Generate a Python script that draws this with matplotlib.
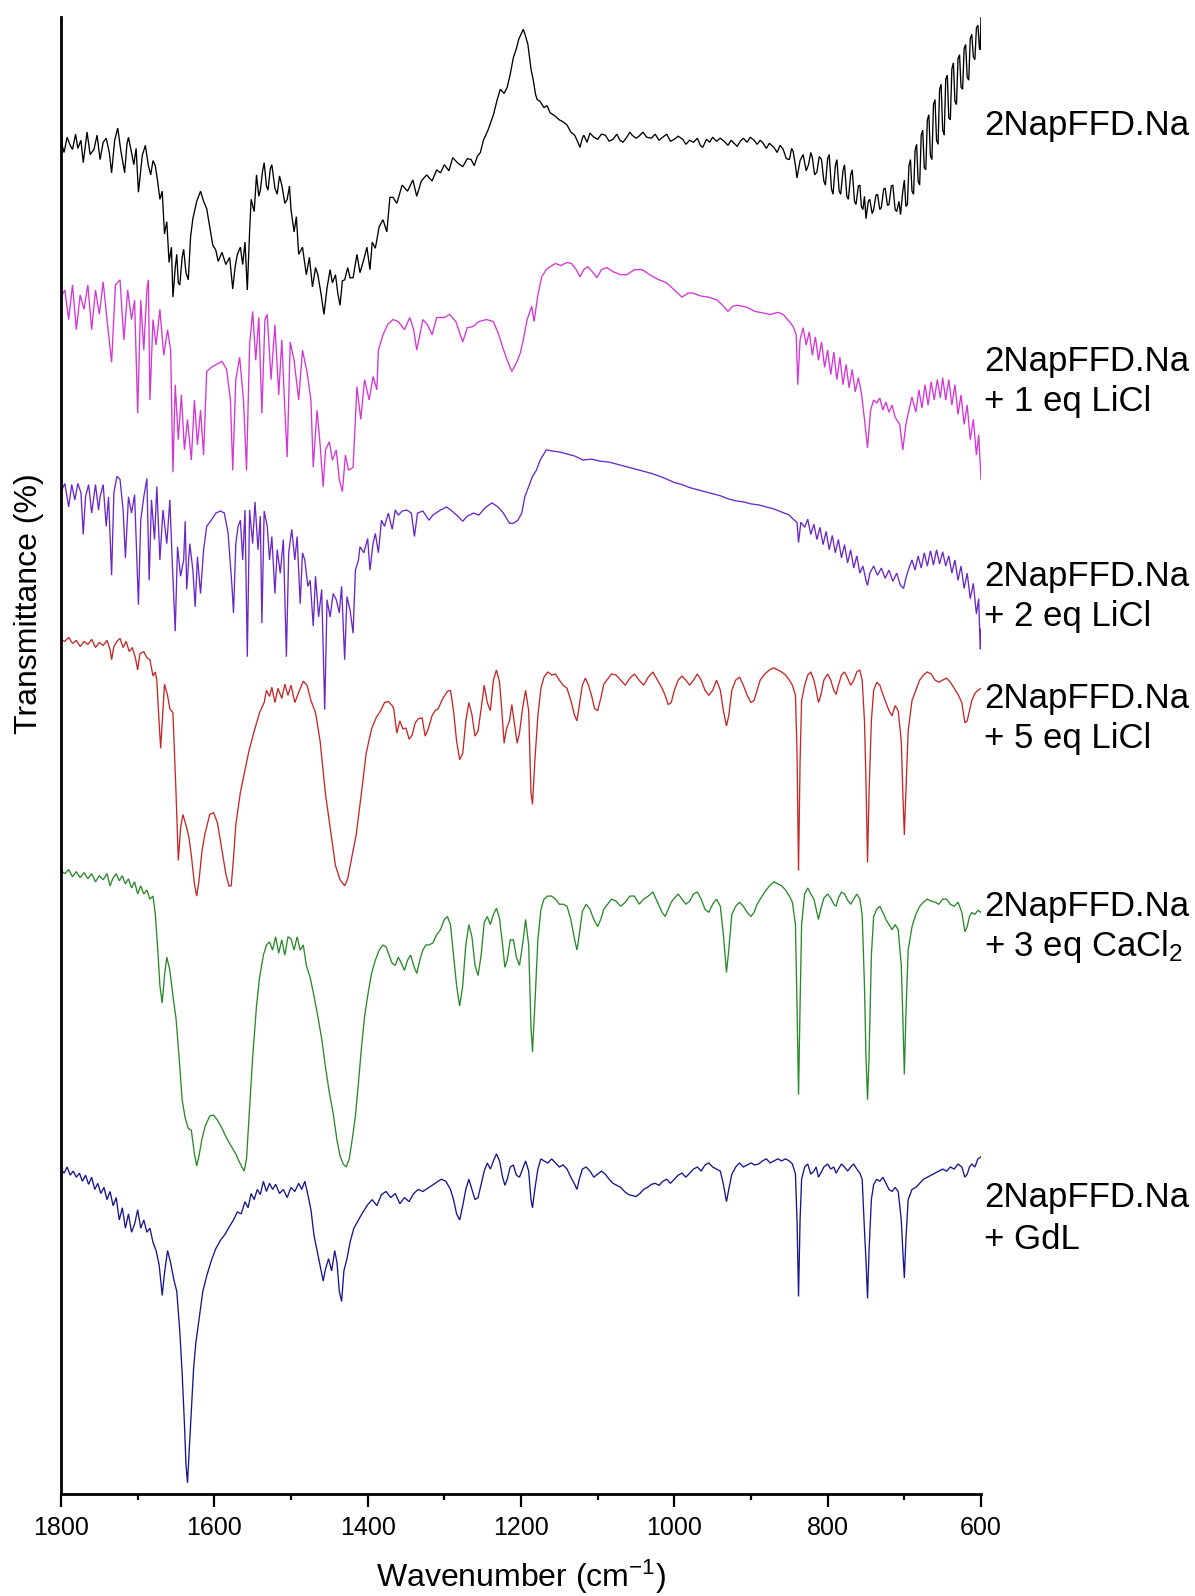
import matplotlib
matplotlib.use("Agg")
import matplotlib.pyplot as plt
from matplotlib.ticker import MultipleLocator

plt.rcParams['font.family'] = ['Liberation Sans', 'DejaVu Sans']
plt.rcParams['mathtext.fontset'] = 'custom'
plt.rcParams['mathtext.rm'] = 'Liberation Sans'
plt.rcParams['mathtext.it'] = 'Liberation Sans:italic'
plt.rcParams['mathtext.default'] = 'regular'

# ---------------------------------------------------------------------------
# FTIR spectra, vertically stacked transmittance (arbitrary offset units)
# ---------------------------------------------------------------------------
na_wn = [1800, 1796, 1792, 1788, 1785, 1781, 1778, 1774, 1771, 1768, 1766, 1762, 1757, 1753, 1749, 1745,
         1741, 1737, 1734, 1730, 1726, 1722, 1717, 1714, 1712, 1708, 1705, 1702, 1699, 1694, 1690, 1686,
         1683, 1680, 1677, 1674, 1671, 1668, 1665, 1662, 1659, 1656, 1654, 1651, 1649, 1647, 1645, 1642,
         1640, 1637, 1634, 1631, 1628, 1623, 1618, 1614, 1610, 1606, 1602, 1598, 1595, 1590, 1585, 1580,
         1576, 1573, 1570, 1566, 1563, 1560, 1557, 1554, 1552, 1548, 1545, 1542, 1540, 1537, 1535, 1532,
         1530, 1527, 1525, 1521, 1518, 1515, 1512, 1508, 1505, 1502, 1500, 1496, 1493, 1490, 1485, 1480,
         1476, 1472, 1468, 1465, 1461, 1457, 1453, 1449, 1446, 1442, 1439, 1436, 1433, 1430, 1426, 1423,
         1419, 1414, 1410, 1405, 1401, 1397, 1394, 1390, 1385, 1380, 1375, 1371, 1367, 1362, 1355, 1348,
         1341, 1336, 1330, 1323, 1316, 1310, 1305, 1300, 1294, 1289, 1283, 1276, 1270, 1265, 1261, 1257,
         1253, 1249, 1243, 1236, 1231, 1227, 1222, 1218, 1214, 1210, 1206, 1203, 1200, 1197, 1194, 1191,
         1187, 1184, 1181, 1179, 1175, 1170, 1166, 1162, 1156, 1150, 1145, 1140, 1135, 1130, 1127, 1123,
         1120, 1118, 1114, 1110, 1105, 1100, 1095, 1090, 1085, 1080, 1075, 1071, 1067, 1062, 1058, 1055,
         1050, 1046, 1041, 1036, 1030, 1025, 1020, 1015, 1010, 1005, 1000, 995, 989, 985, 980, 975,
         970, 966, 963, 958, 954, 950, 945, 940, 935, 930, 926, 922, 918, 914, 910, 905,
         901, 896, 892, 888, 885, 880, 876, 870, 866, 862, 858, 854, 850, 847, 845, 842,
         840, 836, 832, 828, 825, 822, 820, 817, 814, 811, 808, 805, 803, 800, 798, 795,
         793, 790, 788, 785, 783, 780, 778, 775, 773, 770, 768, 765, 763, 760, 758, 756,
         754, 752, 750, 747, 745, 742, 740, 737, 735, 732, 730, 727, 725, 722, 720, 717,
         715, 712, 710, 707, 705, 702, 700, 698, 696, 694, 692, 690, 688, 686, 684, 682,
         680, 678, 676, 674, 672, 670, 668, 666, 664, 662, 660, 658, 656, 654, 652, 650,
         648, 646, 644, 642, 640, 638, 636, 634, 632, 630, 628, 626, 624, 622, 620, 618,
         616, 614, 612, 610, 608, 606, 604, 602, 601, 600]
na_t = [1329, 1318, 1333, 1325, 1321, 1336, 1322, 1330, 1308, 1326, 1338, 1316, 1321, 1335, 1311, 1328,
        1332, 1318, 1298, 1330, 1342, 1320, 1298, 1326, 1333, 1318, 1306, 1322, 1279, 1315, 1325, 1305,
        1296, 1310, 1305, 1290, 1272, 1280, 1238, 1250, 1210, 1225, 1176, 1205, 1218, 1190, 1188, 1215,
        1223, 1200, 1193, 1235, 1253, 1270, 1280, 1270, 1263, 1245, 1227, 1222, 1211, 1220, 1208, 1215,
        1184, 1205, 1218, 1225, 1208, 1230, 1183, 1240, 1272, 1260, 1296, 1275, 1281, 1300, 1308, 1285,
        1281, 1302, 1306, 1283, 1277, 1295, 1286, 1268, 1272, 1285, 1262, 1240, 1255, 1218, 1225, 1198,
        1215, 1186, 1205, 1198, 1180, 1159, 1185, 1203, 1190, 1198, 1180, 1168, 1192, 1193, 1205, 1195,
        1195, 1218, 1200, 1213, 1225, 1203, 1230, 1224, 1245, 1252, 1240, 1274, 1274, 1268, 1286, 1280,
        1291, 1275, 1290, 1296, 1290, 1301, 1298, 1306, 1300, 1313, 1308, 1304, 1312, 1311, 1305, 1314,
        1318, 1330, 1340, 1355, 1370, 1380, 1376, 1382, 1395, 1411, 1420, 1429, 1434, 1439, 1432, 1424,
        1400, 1389, 1375, 1370, 1368, 1362, 1364, 1357, 1354, 1350, 1348, 1345, 1338, 1335, 1330, 1323,
        1332, 1335, 1328, 1337, 1333, 1331, 1336, 1335, 1329, 1331, 1336, 1330, 1328, 1333, 1338, 1335,
        1332, 1334, 1338, 1333, 1332, 1336, 1330, 1333, 1336, 1329, 1331, 1334, 1331, 1326, 1330, 1328,
        1332, 1325, 1323, 1331, 1328, 1333, 1329, 1332, 1329, 1325, 1330, 1327, 1324, 1329, 1332, 1328,
        1333, 1330, 1326, 1330, 1328, 1322, 1327, 1323, 1318, 1325, 1321, 1312, 1311, 1322, 1319, 1305,
        1293, 1310, 1316, 1300, 1306, 1318, 1313, 1296, 1299, 1314, 1311, 1290, 1286, 1312, 1316, 1282,
        1277, 1305, 1311, 1280, 1277, 1300, 1306, 1275, 1272, 1296, 1301, 1270, 1267, 1285, 1286, 1265,
        1262, 1275, 1253, 1270, 1272, 1258, 1262, 1276, 1277, 1262, 1264, 1282, 1283, 1266, 1267, 1285,
        1286, 1262, 1260, 1270, 1257, 1280, 1291, 1265, 1267, 1305, 1311, 1280, 1277, 1320, 1326, 1290,
        1286, 1335, 1340, 1303, 1301, 1350, 1355, 1315, 1311, 1365, 1370, 1330, 1326, 1380, 1385, 1340,
        1335, 1390, 1394, 1352, 1350, 1400, 1406, 1368, 1365, 1410, 1414, 1382, 1380, 1420, 1424, 1392,
        1389, 1430, 1434, 1412, 1409, 1440, 1443, 1420, 1419, 1451]

li1_wn = [1800, 1795, 1790, 1785, 1780, 1775, 1770, 1765, 1760, 1755, 1750, 1745, 1740, 1734, 1729, 1723,
          1718, 1713, 1708, 1704, 1700, 1696, 1692, 1688, 1686, 1684, 1680, 1676, 1671, 1666, 1661, 1657,
          1654, 1651, 1647, 1643, 1639, 1635, 1630, 1626, 1622, 1618, 1614, 1610, 1604, 1597, 1590, 1584,
          1579, 1576, 1572, 1567, 1562, 1558, 1554, 1550, 1546, 1542, 1538, 1534, 1531, 1526, 1521, 1516,
          1512, 1508, 1505, 1501, 1496, 1490, 1485, 1479, 1474, 1471, 1466, 1462, 1458, 1455, 1450, 1446,
          1441, 1437, 1433, 1429, 1425, 1419, 1414, 1409, 1404, 1398, 1393, 1388, 1386, 1380, 1374, 1367,
          1360, 1352, 1345, 1340, 1336, 1328, 1322, 1316, 1310, 1300, 1293, 1285, 1276, 1270, 1263, 1255,
          1245, 1236, 1229, 1224, 1218, 1212, 1205, 1201, 1197, 1192, 1186, 1183, 1178, 1173, 1167, 1162,
          1155, 1148, 1140, 1134, 1128, 1123, 1118, 1113, 1107, 1101, 1095, 1088, 1080, 1070, 1062, 1052,
          1042, 1030, 1020, 1010, 1000, 990, 982, 976, 965, 955, 944, 937, 930, 924, 918, 905,
          895, 888, 875, 865, 858, 850, 845, 841, 839, 836, 832, 828, 824, 820, 816, 812,
          808, 804, 800, 796, 792, 788, 784, 780, 776, 772, 768, 764, 760, 756, 752, 748,
          744, 740, 736, 732, 728, 724, 720, 716, 712, 706, 702, 698, 694, 690, 685, 681,
          677, 673, 669, 665, 661, 657, 653, 650, 646, 642, 638, 634, 630, 626, 622, 618,
          614, 610, 606, 603, 600]
li1_t = [1176, 1183, 1154, 1188, 1144, 1178, 1164, 1188, 1144, 1183, 1159, 1191, 1154, 1112, 1188, 1193,
         1134, 1183, 1154, 1173, 1062, 1173, 1124, 1183, 1193, 1075, 1154, 1129, 1164, 1119, 1144, 1124,
         1004, 1090, 1036, 1080, 1026, 1056, 1016, 1075, 1031, 1065, 1021, 1103, 1107, 1110, 1113, 1105,
         1075, 1006, 1095, 1117, 1075, 1006, 1129, 1162, 1114, 1156, 1062, 1154, 1159, 1095, 1149, 1080,
         1134, 1065, 1019, 1132, 1114, 1075, 1124, 1102, 1075, 1009, 1065, 1031, 990, 1026, 1034, 1016,
         1026, 997, 985, 1021, 1006, 1009, 1088, 1056, 1095, 1075, 1098, 1085, 1124, 1139, 1149, 1154,
         1152, 1144, 1156, 1144, 1124, 1154, 1149, 1139, 1156, 1156, 1159, 1152, 1132, 1146, 1147, 1152,
         1154, 1152, 1139, 1127, 1114, 1103, 1113, 1121, 1134, 1154, 1167, 1152, 1178, 1196, 1203, 1206,
         1209, 1207, 1210, 1209, 1203, 1196, 1203, 1206, 1201, 1195, 1203, 1205, 1201, 1198, 1198, 1203,
         1203, 1197, 1193, 1190, 1183, 1176, 1180, 1180, 1177, 1176, 1173, 1168, 1162, 1167, 1168, 1166,
         1162, 1161, 1159, 1161, 1159, 1152, 1147, 1139, 1090, 1134, 1146, 1129, 1142, 1119, 1137, 1114,
         1132, 1107, 1124, 1100, 1122, 1095, 1117, 1090, 1110, 1087, 1105, 1083, 1097, 1082, 1056, 1028,
         1065, 1075, 1072, 1077, 1065, 1073, 1063, 1070, 1058, 1051, 1026, 1051, 1065, 1078, 1063, 1085,
         1067, 1090, 1070, 1093, 1075, 1095, 1077, 1097, 1075, 1095, 1070, 1090, 1061, 1080, 1051, 1070,
         1036, 1056, 1021, 1041, 997]

li2_wn = [1800, 1795, 1790, 1786, 1782, 1778, 1774, 1771, 1768, 1764, 1760, 1755, 1751, 1749, 1745, 1741,
          1738, 1734, 1731, 1727, 1723, 1719, 1716, 1712, 1708, 1704, 1699, 1696, 1692, 1688, 1685, 1682,
          1678, 1675, 1671, 1667, 1662, 1658, 1655, 1651, 1648, 1644, 1640, 1638, 1636, 1632, 1628, 1625,
          1622, 1618, 1614, 1610, 1604, 1598, 1592, 1587, 1582, 1577, 1575, 1572, 1569, 1566, 1563, 1560,
          1557, 1554, 1550, 1547, 1543, 1540, 1538, 1535, 1531, 1528, 1525, 1521, 1518, 1514, 1510, 1506,
          1503, 1499, 1495, 1492, 1488, 1485, 1482, 1478, 1475, 1471, 1468, 1464, 1460, 1456, 1453, 1449,
          1445, 1441, 1437, 1434, 1430, 1427, 1423, 1419, 1416, 1412, 1410, 1405, 1400, 1397, 1393, 1390,
          1386, 1382, 1378, 1373, 1368, 1364, 1360, 1355, 1349, 1343, 1339, 1335, 1328, 1320, 1315, 1305,
          1297, 1290, 1284, 1276, 1270, 1262, 1255, 1247, 1238, 1230, 1223, 1215, 1210, 1204, 1199, 1195,
          1190, 1185, 1180, 1175, 1167, 1160, 1150, 1140, 1130, 1119, 1108, 1097, 1085, 1075, 1060, 1045,
          1030, 1015, 1000, 990, 980, 970, 960, 950, 940, 930, 920, 910, 900, 890, 880, 870,
          860, 850, 845, 840, 838, 835, 830, 826, 822, 818, 814, 810, 806, 802, 798, 794,
          790, 786, 782, 778, 774, 770, 766, 762, 758, 754, 750, 748, 745, 740, 735, 730,
          725, 720, 715, 710, 705, 701, 698, 694, 690, 686, 682, 678, 674, 670, 666, 662,
          658, 654, 650, 646, 642, 638, 634, 630, 626, 622, 618, 614, 610, 606, 603, 601,
          600]
li2_t = [985, 993, 970, 992, 977, 993, 984, 943, 980, 992, 964, 992, 967, 980, 992, 951,
         980, 903, 984, 1000, 997, 967, 920, 980, 964, 982, 874, 957, 980, 998, 898, 977,
         938, 990, 918, 967, 934, 977, 918, 848, 931, 902, 918, 956, 889, 934, 908, 872,
         921, 885, 928, 951, 957, 964, 966, 964, 944, 892, 866, 934, 951, 957, 918, 967,
         823, 967, 934, 975, 928, 961, 856, 966, 951, 918, 941, 885, 928, 905, 938, 823,
         925, 948, 918, 941, 875, 925, 918, 892, 898, 853, 902, 862, 889, 771, 879, 862,
         885, 879, 866, 892, 820, 882, 869, 846, 908, 918, 931, 925, 939, 908, 934, 944,
         925, 957, 951, 964, 948, 967, 962, 966, 967, 964, 941, 964, 966, 957, 962, 967,
         970, 966, 962, 956, 961, 964, 962, 969, 974, 970, 964, 954, 954, 957, 964, 980,
         990, 1000, 1006, 1016, 1026, 1025, 1024, 1022, 1020, 1016, 1017, 1015, 1014, 1012, 1009, 1006,
         1003, 999, 994, 992, 989, 987, 985, 983, 981, 978, 976, 975, 973, 972, 970, 968,
         965, 962, 958, 955, 935, 955, 950, 958, 943, 953, 938, 950, 933, 946, 928, 942,
         925, 938, 920, 933, 915, 928, 910, 922, 905, 912, 898, 893, 905, 912, 903, 910,
         900, 908, 897, 905, 893, 890, 900, 910, 918, 908, 922, 910, 925, 912, 927, 913,
         928, 914, 926, 912, 922, 905, 918, 898, 912, 890, 905, 880, 895, 865, 880, 830,
         850]

li5_wn = [1800, 1795, 1790, 1785, 1780, 1775, 1770, 1765, 1760, 1755, 1750, 1745, 1740, 1736, 1734, 1731,
          1727, 1723, 1719, 1715, 1711, 1707, 1703, 1700, 1697, 1692, 1688, 1684, 1680, 1677, 1675, 1673,
          1670, 1667, 1665, 1661, 1658, 1654, 1650, 1647, 1644, 1641, 1636, 1633, 1630, 1626, 1623, 1620,
          1616, 1612, 1606, 1601, 1596, 1590, 1585, 1581, 1578, 1575, 1572, 1566, 1561, 1555, 1548, 1541,
          1535, 1532, 1528, 1525, 1521, 1517, 1512, 1508, 1504, 1500, 1495, 1490, 1484, 1479, 1474, 1468,
          1462, 1455, 1448, 1442, 1436, 1430, 1426, 1421, 1415, 1408, 1402, 1395, 1389, 1383, 1378, 1373,
          1368, 1366, 1362, 1358, 1354, 1350, 1346, 1342, 1338, 1334, 1329, 1325, 1321, 1316, 1312, 1308,
          1302, 1296, 1292, 1288, 1284, 1280, 1276, 1272, 1268, 1264, 1260, 1256, 1252, 1248, 1244, 1240,
          1236, 1232, 1228, 1225, 1222, 1219, 1215, 1212, 1209, 1205, 1202, 1198, 1194, 1190, 1187, 1185,
          1182, 1178, 1174, 1170, 1165, 1160, 1155, 1150, 1145, 1140, 1135, 1130, 1127, 1124, 1120, 1116,
          1112, 1108, 1104, 1100, 1096, 1092, 1088, 1082, 1076, 1070, 1064, 1058, 1052, 1046, 1040, 1034,
          1028, 1022, 1016, 1012, 1008, 1004, 1000, 995, 990, 985, 980, 975, 970, 965, 960, 955,
          950, 945, 940, 936, 932, 929, 925, 920, 915, 910, 905, 900, 896, 892, 888, 882,
          876, 870, 865, 860, 855, 850, 846, 842, 840, 838, 836, 834, 830, 826, 822, 818,
          815, 812, 809, 805, 800, 796, 792, 789, 786, 782, 778, 774, 770, 766, 762, 758,
          755, 752, 750, 748, 746, 743, 740, 736, 732, 728, 724, 720, 716, 712, 708, 704,
          702, 700, 698, 695, 690, 685, 680, 675, 670, 665, 660, 655, 650, 645, 640, 635,
          630, 625, 621, 618, 615, 612, 608, 604, 600]
li5_t = [840, 838, 842, 836, 839, 833, 838, 835, 840, 832, 837, 834, 839, 830, 820, 833,
         838, 841, 832, 838, 828, 832, 822, 810, 826, 828, 822, 820, 804, 808, 800, 771,
         733, 770, 796, 785, 772, 768, 690, 623, 655, 668, 655, 645, 628, 600, 588, 603,
         633, 650, 668, 670, 660, 633, 610, 598, 598, 625, 658, 690, 708, 730, 750, 768,
         778, 790, 784, 793, 778, 792, 782, 796, 785, 795, 778, 788, 799, 795, 780, 768,
         740, 688, 650, 618, 604, 598, 605, 625, 648, 690, 728, 752, 763, 770, 778, 779,
         775, 772, 748, 760, 752, 753, 742, 746, 758, 762, 763, 745, 752, 765, 770, 772,
         782, 789, 790, 770, 740, 722, 728, 760, 778, 766, 745, 750, 772, 795, 778, 770,
         800, 810, 798, 770, 738, 752, 760, 776, 760, 738, 748, 772, 790, 770, 690, 678,
         720, 765, 792, 803, 808, 805, 806, 800, 795, 792, 780, 765, 760, 775, 795, 802,
         795, 785, 772, 770, 782, 796, 800, 806, 805, 800, 795, 802, 806, 800, 795, 803,
         808, 800, 792, 785, 776, 778, 790, 800, 804, 800, 795, 800, 806, 800, 790, 785,
         790, 800, 790, 770, 755, 765, 790, 800, 803, 795, 785, 778, 780, 790, 800, 806,
         810, 812, 810, 808, 805, 800, 795, 785, 730, 613, 720, 780, 795, 805, 808, 800,
         790, 778, 785, 800, 806, 800, 790, 786, 795, 805, 808, 802, 795, 800, 808, 810,
         800, 760, 700, 621, 690, 760, 790, 798, 795, 786, 778, 770, 765, 775, 770, 740,
         690, 648, 690, 750, 780, 790, 800, 805, 808, 806, 800, 798, 800, 802, 798, 792,
         786, 778, 758, 760, 770, 780, 787, 790, 792]

ca3_wn = [1800, 1795, 1790, 1785, 1780, 1775, 1770, 1765, 1760, 1755, 1750, 1745, 1740, 1736, 1732, 1728,
          1724, 1720, 1716, 1712, 1708, 1704, 1700, 1696, 1692, 1688, 1684, 1680, 1677, 1674, 1671, 1668,
          1665, 1662, 1658, 1654, 1650, 1646, 1642, 1638, 1634, 1630, 1626, 1623, 1620, 1616, 1612, 1606,
          1601, 1596, 1590, 1585, 1580, 1576, 1572, 1568, 1564, 1561, 1558, 1555, 1550, 1545, 1541, 1536,
          1532, 1528, 1524, 1520, 1516, 1512, 1508, 1504, 1500, 1496, 1492, 1488, 1484, 1480, 1475, 1470,
          1465, 1460, 1455, 1450, 1445, 1440, 1436, 1432, 1428, 1424, 1420, 1416, 1412, 1408, 1404, 1400,
          1395, 1390, 1385, 1380, 1376, 1372, 1368, 1364, 1360, 1356, 1352, 1348, 1344, 1340, 1336, 1332,
          1328, 1324, 1320, 1315, 1310, 1305, 1300, 1296, 1292, 1288, 1284, 1280, 1276, 1272, 1268, 1264,
          1260, 1256, 1252, 1248, 1244, 1240, 1236, 1232, 1228, 1224, 1221, 1218, 1214, 1210, 1206, 1202,
          1198, 1194, 1190, 1187, 1185, 1182, 1178, 1174, 1170, 1165, 1160, 1155, 1150, 1145, 1140, 1135,
          1130, 1127, 1124, 1120, 1115, 1110, 1105, 1100, 1096, 1092, 1087, 1082, 1076, 1070, 1064, 1058,
          1052, 1046, 1040, 1034, 1028, 1022, 1016, 1012, 1008, 1004, 1000, 995, 990, 985, 980, 975,
          970, 965, 960, 955, 950, 945, 940, 936, 932, 929, 925, 920, 915, 910, 905, 900,
          896, 892, 888, 882, 876, 870, 865, 860, 855, 850, 846, 842, 840, 838, 836, 834,
          830, 826, 822, 818, 815, 812, 809, 805, 800, 796, 792, 789, 786, 782, 778, 774,
          770, 766, 762, 758, 755, 752, 750, 748, 746, 743, 740, 736, 732, 728, 724, 720,
          716, 712, 708, 704, 702, 700, 698, 695, 690, 685, 680, 675, 670, 665, 660, 655,
          650, 645, 640, 635, 630, 625, 621, 618, 615, 612, 608, 604, 600]
ca3_t = [613, 610, 614, 607, 612, 606, 611, 605, 610, 602, 608, 604, 610, 598, 606, 610,
         603, 608, 600, 605, 596, 602, 590, 598, 590, 594, 585, 588, 570, 538, 500, 483,
         510, 528, 515, 490, 468, 430, 388, 370, 360, 358, 335, 323, 333, 350, 362, 372,
         373, 368, 360, 352, 345, 340, 335, 328, 322, 318, 330, 368, 430, 480, 508, 530,
         540, 543, 535, 548, 532, 545, 530, 548, 546, 535, 548, 535, 540, 520, 508, 490,
         470, 448, 420, 395, 375, 348, 333, 325, 322, 330, 350, 372, 405, 440, 470, 490,
         512, 525, 535, 540, 538, 530, 522, 520, 528, 522, 515, 525, 530, 520, 512, 525,
         535, 540, 540, 542, 550, 555, 565, 568, 560, 530, 500, 480, 500, 540, 560, 548,
         520, 510, 530, 562, 568, 560, 570, 576, 566, 540, 518, 525, 545, 545, 528, 520,
         540, 565, 540, 460, 435, 480, 545, 575, 585, 588, 588, 585, 580, 580, 578, 565,
         545, 535, 550, 573, 580, 575, 565, 558, 565, 575, 580, 585, 583, 578, 582, 588,
         588, 580, 585, 588, 592, 582, 572, 568, 575, 582, 586, 590, 585, 580, 583, 590,
         592, 585, 575, 572, 580, 585, 578, 550, 513, 535, 570, 578, 582, 578, 572, 568,
         572, 580, 585, 592, 598, 602, 600, 598, 594, 588, 582, 560, 480, 393, 480, 560,
         590, 596, 590, 585, 575, 565, 575, 586, 590, 586, 580, 578, 586, 592, 590, 584,
         580, 585, 590, 585, 570, 500, 430, 388, 430, 530, 568, 575, 578, 572, 565, 560,
         555, 560, 555, 520, 470, 413, 470, 535, 558, 570, 578, 582, 585, 583, 582, 580,
         585, 585, 580, 578, 582, 572, 553, 558, 568, 572, 570, 574, 572]

gdl_wn = [1800, 1796, 1792, 1788, 1784, 1780, 1776, 1772, 1768, 1764, 1760, 1756, 1752, 1748, 1744, 1740,
          1736, 1732, 1728, 1724, 1720, 1716, 1712, 1708, 1704, 1700, 1696, 1692, 1688, 1684, 1680, 1676,
          1672, 1668, 1665, 1661, 1657, 1653, 1649, 1645, 1642, 1639, 1637, 1635, 1633, 1630, 1627, 1624,
          1620, 1615, 1610, 1604, 1598, 1592, 1586, 1580, 1575, 1570, 1565, 1560, 1556, 1552, 1548, 1544,
          1540, 1536, 1532, 1528, 1524, 1520, 1515, 1510, 1505, 1500, 1495, 1490, 1486, 1482, 1478, 1474,
          1470, 1466, 1462, 1458, 1455, 1451, 1447, 1443, 1440, 1437, 1434, 1431, 1427, 1423, 1418, 1412,
          1406, 1400, 1394, 1388, 1382, 1376, 1370, 1364, 1358, 1352, 1346, 1340, 1334, 1328, 1320, 1312,
          1304, 1298, 1292, 1288, 1284, 1280, 1276, 1272, 1268, 1264, 1260, 1256, 1252, 1248, 1244, 1240,
          1236, 1232, 1228, 1224, 1221, 1218, 1214, 1210, 1206, 1202, 1198, 1194, 1190, 1187, 1185, 1182,
          1178, 1174, 1170, 1165, 1160, 1155, 1150, 1145, 1140, 1135, 1130, 1127, 1124, 1120, 1115, 1110,
          1105, 1100, 1095, 1090, 1085, 1080, 1075, 1070, 1065, 1060, 1055, 1050, 1045, 1040, 1035, 1030,
          1025, 1020, 1015, 1010, 1005, 1000, 995, 990, 985, 980, 975, 970, 965, 960, 955, 950,
          945, 940, 936, 932, 929, 925, 920, 915, 910, 905, 900, 895, 890, 885, 880, 875,
          870, 865, 860, 855, 850, 846, 842, 840, 838, 836, 834, 830, 826, 822, 818, 815,
          812, 809, 805, 800, 796, 792, 789, 786, 782, 778, 774, 770, 766, 762, 758, 755,
          752, 750, 748, 746, 743, 740, 736, 732, 728, 724, 720, 716, 712, 708, 704, 702,
          700, 698, 695, 690, 685, 680, 675, 670, 665, 660, 655, 650, 645, 640, 635, 630,
          625, 621, 618, 615, 612, 608, 604, 600]
gdl_t = [320, 316, 322, 314, 318, 312, 316, 308, 314, 305, 312, 300, 306, 296, 302, 290,
         298, 284, 292, 270, 282, 262, 276, 258, 266, 280, 262, 270, 258, 262, 248, 240,
         226, 196, 218, 240, 228, 212, 200, 160, 120, 70, 30, 12, 40, 80, 125, 150,
         172, 200, 215, 230, 242, 250, 256, 264, 270, 278, 276, 288, 282, 296, 290, 300,
         295, 308, 298, 306, 300, 305, 296, 300, 292, 302, 298, 306, 300, 308, 295, 280,
         255, 240, 225, 210, 222, 232, 220, 240, 228, 200, 190, 220, 232, 248, 262, 270,
         278, 285, 290, 284, 295, 298, 292, 296, 286, 292, 288, 296, 300, 298, 302, 306,
         310, 308, 300, 290, 276, 270, 284, 300, 310, 300, 290, 292, 305, 318, 326, 320,
         328, 335, 328, 312, 304, 310, 322, 324, 314, 312, 320, 328, 318, 290, 282, 300,
         320, 330, 328, 326, 330, 326, 322, 324, 320, 312, 305, 300, 310, 320, 322, 318,
         312, 315, 318, 315, 310, 306, 304, 302, 298, 295, 294, 293, 296, 300, 302, 305,
         306, 304, 308, 310, 306, 310, 314, 316, 312, 316, 320, 322, 318, 324, 326, 322,
         320, 318, 305, 288, 300, 315, 322, 326, 322, 324, 326, 324, 325, 328, 330, 326,
         328, 330, 328, 330, 328, 325, 315, 270, 195, 270, 310, 322, 325, 315, 318, 322,
         312, 316, 322, 325, 320, 322, 316, 320, 325, 322, 318, 322, 325, 320, 316, 310,
         260, 230, 193, 240, 290, 305, 310, 308, 312, 306, 300, 298, 302, 298, 270, 240,
         213, 250, 290, 300, 302, 306, 310, 312, 314, 316, 318, 320, 318, 322, 320, 325,
         322, 312, 315, 322, 325, 322, 330, 332]

SPECTRA = [(na_wn, na_t), (li1_wn, li1_t), (li2_wn, li2_t),
           (li5_wn, li5_t), (ca3_wn, ca3_t), (gdl_wn, gdl_t)]
COLORS = ['#000000', '#D535D5', '#6A28C8', '#C62828', '#2A8A2A', '#16168E']
LABELS = [['2NapFFD.Na'],
          ['2NapFFD.Na', '+ 1 eq LiCl'],
          ['2NapFFD.Na', '+ 2 eq LiCl'],
          ['2NapFFD.Na', '+ 5 eq LiCl'],
          ['2NapFFD.Na', '+ 3 eq CaCl$_2$'],
          ['2NapFFD.Na', '+ GdL']]
XTICKS = [1800, 1600, 1400, 1200, 1000, 800, 600]

# ---------------------------------------------------------------------------
W, H = 1195, 1596
fig = plt.figure(figsize=(W / 100, H / 100), dpi=100)
ax = fig.add_axes([61 / W, 1 - 1494 / H, 920 / W, 1477 / H])

for (wn, t), c in zip(SPECTRA, COLORS):
    ax.plot(wn, t, color=c, lw=0.95, solid_joinstyle='miter')

ax.set_xlim(1800, 600)
ax.set_ylim(1, 1451)
ax.set_xticks(XTICKS)
ax.set_xticklabels([str(v) for v in XTICKS])
ax.xaxis.set_minor_locator(MultipleLocator(100))
ax.set_yticks([])

for side in ('top', 'right'):
    ax.spines[side].set_visible(False)
for side in ('left', 'bottom'):
    ax.spines[side].set_linewidth(2.0)

ax.tick_params(axis='x', which='major', direction='out', length=9.5, width=1.6,
               labelsize=18, pad=6)
ax.tick_params(axis='x', which='minor', direction='out', length=4.5, width=1.6)

fig.text(521 / W, 1 - 1587 / H, 'Wavenumber (cm$^{-1}$)', ha='center', va='baseline',
         fontsize=23)
fig.text(29 / W, 1 - 604 / H, 'Transmittance (%)', ha='center', va='center',
         rotation=90, fontsize=23)

# sample names, placed beside the right end of each trace
label_baselines = [[135], [371, 411], [586, 626], [708, 748], [916, 956], [1207, 1249]]
for lines, bases in zip(LABELS, label_baselines):
    for txt, b in zip(lines, bases):
        fig.text(984 / W, 1 - b / H, txt, ha='left', va='baseline', fontsize=25)

fig.savefig('out.png', dpi=100)
